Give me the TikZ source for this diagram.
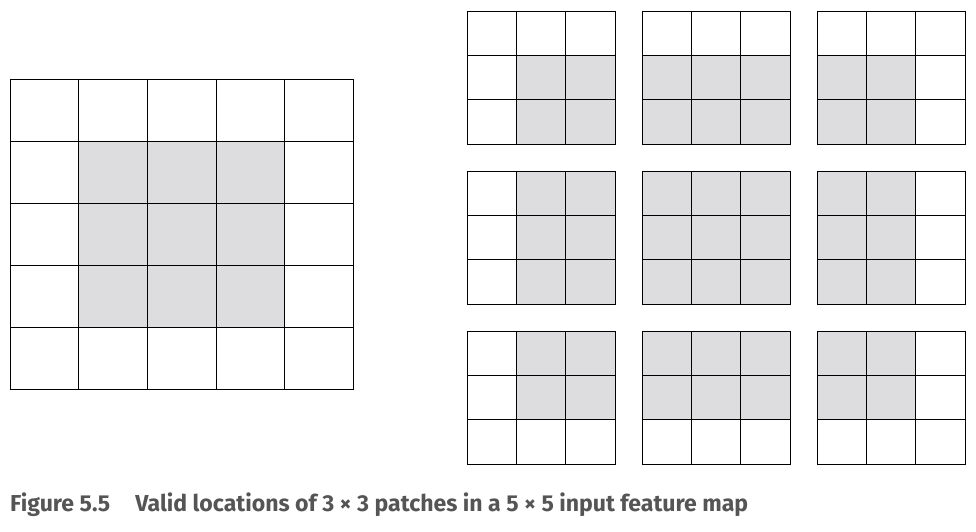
\documentclass[tikz,border=0pt]{standalone}
\usepackage{fontspec}
\setmainfont{Fira Sans}
\definecolor{shade}{RGB}{221,221,223}
\definecolor{capc}{RGB}{85,85,85}
\begin{document}
\begin{tikzpicture}[x=1pt,y=-1pt,
  cellbox/.style={draw=black,line width=0.6pt}]
\useasboundingbox (0,0) rectangle (976,532);
% big grid
\foreach \i in {0,...,4}{\foreach \j in {0,...,4}{
  \pgfmathsetmacro{\s}{(\i>0 && \i<4 && \j>0 && \j<4)?1:0}
  \ifdim\s pt>0.5pt
    \filldraw[cellbox,fill=shade] (10+\j*68.6,79+\i*62) rectangle ++(68.6,62);
  \else
    \draw[cellbox] (10+\j*68.6,79+\i*62) rectangle ++(68.6,62);
  \fi}}
% small grids
\foreach \r in {0,1,2}{\foreach \c in {0,1,2}{
 \foreach \i in {0,1,2}{\foreach \j in {0,1,2}{
  \pgfmathsetmacro{\s}{(\r+\i>0 && \r+\i<4 && \c+\j>0 && \c+\j<4)?1:0}
  \ifdim\s pt>0.5pt
    \filldraw[cellbox,fill=shade] (467+\c*175+\j*49.3,11+\r*160+\i*44.3) rectangle ++(49.3,44.3);
  \else
    \draw[cellbox] (467+\c*175+\j*49.3,11+\r*160+\i*44.3) rectangle ++(49.3,44.3);
  \fi}}}}
\node[anchor=west,inner sep=0pt,text=capc,font=\fontsize{20}{24}\selectfont\bfseries] (cap) at (10,505)
  {\resizebox{738pt}{!}{Figure 5.5\hspace{1.1em}Valid locations of 3 × 3 patches in a 5 × 5 input feature map}};
\end{tikzpicture}
\end{document}
